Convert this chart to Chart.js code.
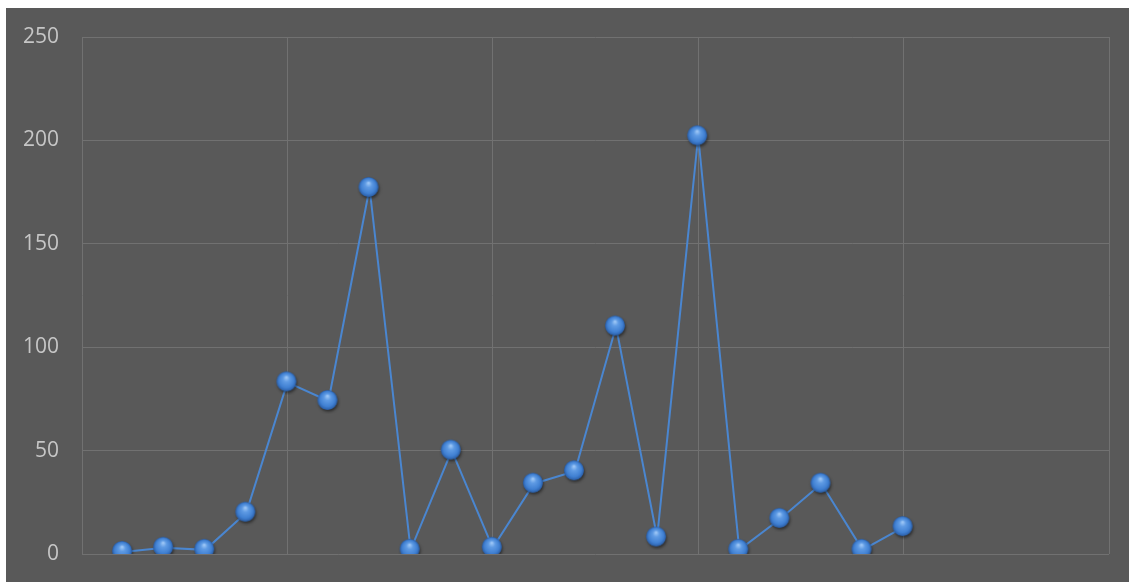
<!DOCTYPE html>
<html>
<head>
<meta charset="utf-8">
<script src="https://cdn.jsdelivr.net/npm/chart.js@4/dist/chart.umd.min.js"></script>
<style>
  body { margin: 0; background: #ffffff; }
  #wrap { position: absolute; left: 6px; top: 8px; width: 1123px; height: 574px; background: #595959; }
</style>
</head>
<body>
<div id="wrap"><canvas id="myChart" width="1123" height="574"></canvas></div>
<script>
  const xValues = [1, 2, 3, 4, 5, 6, 7, 8, 9, 10, 11, 12, 13, 14, 15, 16, 17, 18, 19, 20];
  const yValues = [1, 3, 2, 20, 83, 74, 177, 2, 50, 3, 34, 40, 110, 8, 202, 2, 17, 34, 2, 13];
  const yTicks = [0, 50, 100, 150, 200, 250];

  // glossy blue ball used as the marker
  function makeBall() {
    const c = document.createElement('canvas');
    c.width = 26; c.height = 26;
    const ctx = c.getContext('2d');
    const cx = 12, cy = 12, r = 9.8;
    ctx.shadowColor = 'rgba(0,0,0,0.5)';
    ctx.shadowBlur = 3;
    ctx.shadowOffsetX = 1;
    ctx.shadowOffsetY = 2;
    ctx.beginPath();
    ctx.arc(cx, cy, r, 0, Math.PI * 2);
    ctx.fillStyle = '#2c5ea6';
    ctx.fill();
    ctx.shadowColor = 'transparent';
    const g = ctx.createRadialGradient(cx, cy - 4, 0.5, cx, cy, r);
    g.addColorStop(0, '#9cc6f6');
    g.addColorStop(0.3, '#5f9be4');
    g.addColorStop(0.75, '#4080d2');
    g.addColorStop(1, '#2b5fa8');
    ctx.beginPath();
    ctx.arc(cx, cy, r, 0, Math.PI * 2);
    ctx.fillStyle = g;
    ctx.fill();
    return c;
  }
  const ball = makeBall();

  const data = {
    datasets: [{
      data: xValues.map((x, i) => ({x: x, y: yValues[i]})),
      showLine: true,
      borderColor: '#4a86d0',
      borderWidth: 2,
      pointStyle: ball,
      pointRadius: 10,
      pointHoverRadius: 10,
      tension: 0
    }]
  };

  const config = {
    type: 'scatter',
    data: data,
    options: {
      responsive: false,
      animation: false,
      layout: { padding: { left: 0, top: 29, right: 20, bottom: 28 } },
      plugins: { legend: { display: false }, tooltip: { enabled: false } },
      scales: {
        x: {
          type: 'linear',
          min: 0,
          max: 25,
          ticks: { display: false, stepSize: 5 },
          grid: { color: '#717171', lineWidth: 1, drawTicks: false },
          border: { display: false }
        },
        y: {
          min: 0,
          max: 250,
          afterBuildTicks: (scale) => { scale.ticks = yTicks.map(v => ({value: v})); },
          afterFit: (scale) => {
            scale.width = 76;
            // tick padding would otherwise push the plot area in
            scale.paddingTop = 0;
            scale.paddingBottom = 0;
          },
          ticks: {
            color: '#c6c6c6',
            padding: 23,
            font: { family: 'Open Sans', size: 21 }
          },
          grid: { color: '#717171', lineWidth: 1, drawTicks: false },
          border: { display: false }
        }
      }
    }
  };

  const myChart = new Chart(
      document.getElementById('myChart'),
      config
  );
</script>
</body>
</html>
